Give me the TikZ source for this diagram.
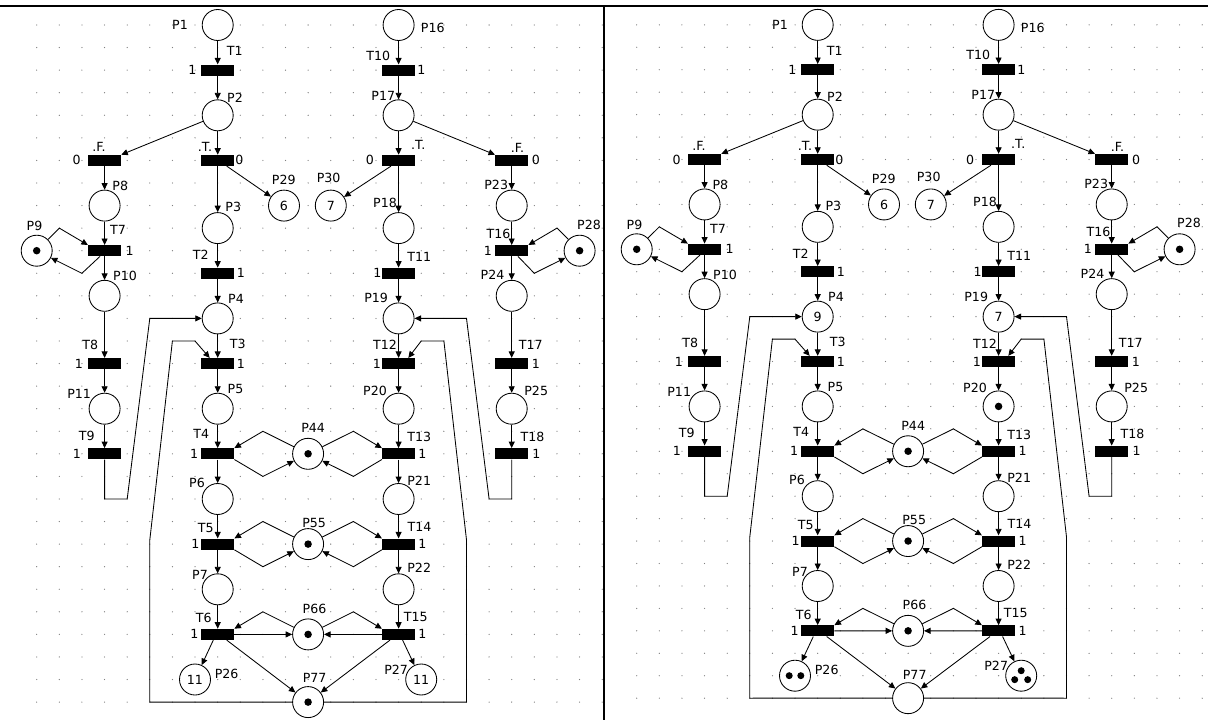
\documentclass[tikz,border=0pt]{standalone}
\usepackage{fontspec}
\setmainfont{DejaVu Sans}
\usetikzlibrary{arrows.meta}
\tikzset{
  place/.style={circle, draw, fill=white, line width=0.85pt, minimum size=31pt, inner sep=0pt},
  trans/.style={rectangle, fill=black, draw=none, minimum width=33pt, minimum height=11pt, inner sep=0pt},
  lbl/.style={font=\fontsize{12.6}{14}\selectfont, inner sep=0pt},
  arc/.style={-{Triangle[length=6.5pt,width=6pt]}, line width=0.85pt},
  tok/.style={circle, fill=black, draw=none, minimum size=7.5pt, inner sep=0pt},
  gdot/.style={fill=black!50}
}
\newcommand\petri[1]{%
  \foreach \i in {0,...,25}{\foreach \j in {0,...,30}{\fill[gdot] ({36.7+22.62*\i},{25+22.57*\j}) circle (0.65pt);}}%
  % places
  \node[place] (#1P1) at (217.7,25) {};
  \node[place] (#1P2) at (217.7,115.3) {};
  \node[place] (#1P8) at (104.6,205.6) {};
  \node[place] (#1P29) at (284,205.6) {};
  \node[place] (#1P3) at (217.7,228.1) {};
  \node[place] (#1P9) at (36.7,250.7) {};
  \node[place] (#1P10) at (104.6,295.8) {};
  \node[place] (#1P4) at (217.7,318.4) {};
  \node[place] (#1P11) at (104.6,408.7) {};
  \node[place] (#1P5) at (217.7,408.7) {};
  \node[place] (#1P44) at (308.1,453.8) {};
  \node[place] (#1P6) at (217.7,499) {};
  \node[place] (#1P21) at (398.6,499) {};
  \node[place] (#1P55) at (308.1,544.1) {};
  \node[place] (#1P7) at (217.7,589.3) {};
  \node[place] (#1P22) at (398.6,589.3) {};
  \node[place] (#1P66) at (308.1,634.4) {};
  \node[place] (#1P26) at (195,679.5) {};
  \node[place] (#1P27) at (421.2,679.5) {};
  \node[place] (#1P77) at (308.1,702.1) {};
  \node[place] (#1P16) at (398.6,25) {};
  \node[place] (#1P17) at (398.6,115.3) {};
  \node[place] (#1P30) at (330.8,205.6) {};
  \node[place] (#1P18) at (398.6,228.1) {};
  \node[place] (#1P23) at (511.7,205.6) {};
  \node[place] (#1P28) at (579.6,250.7) {};
  \node[place] (#1P24) at (511.7,295.8) {};
  \node[place] (#1P19) at (398.6,318.4) {};
  \node[place] (#1P20) at (398.6,408.7) {};
  \node[place] (#1P25) at (511.7,408.7) {};
  % transitions
  \node[trans] (#1T1) at (217.7,70.1) {};
  \node[trans] (#1TT1) at (217.7,160.4) {};
  \node[trans] (#1TF1) at (104.6,160.4) {};
  \node[trans] (#1T7) at (104.6,250.7) {};
  \node[trans] (#1T2) at (217.7,273.3) {};
  \node[trans] (#1T8) at (104.6,363.6) {};
  \node[trans] (#1T3) at (217.7,363.6) {};
  \node[trans] (#1T9) at (104.6,453.8) {};
  \node[trans] (#1T4) at (217.7,453.8) {};
  \node[trans] (#1T13) at (398.6,453.8) {};
  \node[trans] (#1T5) at (217.7,544.1) {};
  \node[trans] (#1T14) at (398.6,544.1) {};
  \node[trans] (#1T6) at (217.7,634.4) {};
  \node[trans] (#1T15) at (398.6,634.4) {};
  \node[trans] (#1T10) at (398.6,70.1) {};
  \node[trans] (#1TT2) at (398.6,160.4) {};
  \node[trans] (#1TF2) at (511.7,160.4) {};
  \node[trans] (#1T16) at (511.7,250.7) {};
  \node[trans] (#1T11) at (398.6,273.3) {};
  \node[trans] (#1T12) at (398.6,363.6) {};
  \node[trans] (#1T17) at (511.7,363.6) {};
  \node[trans] (#1T18) at (511.7,453.8) {};
  % arcs, left branch
  \draw[arc] (#1P1) -- (#1T1);
  \draw[arc] (#1T1) -- (#1P2);
  \draw[arc] (#1P2) -- (#1TT1);
  \draw[arc] (#1P2) -- (#1TF1.north east);
  \draw[arc] (#1TT1) -- (#1P3);
  \draw[arc] ([xshift=9pt]#1TT1.south) -- (#1P29);
  \draw[arc] (#1TF1) -- (#1P8);
  \draw[arc] (#1P8) -- (#1T7);
  \draw[arc] (#1T7) -- (#1P10);
  \draw[arc] (#1P9) -- (59.3,228.1) -- (#1T7.north west);
  \draw[arc] ([xshift=-4.6pt]#1T7.south) -- (81.9,273.3) -- (#1P9);
  \draw[arc] (#1P10) -- (#1T8);
  \draw[arc] (#1T8) -- (#1P11);
  \draw[arc] (#1P11) -- (#1T9);
  \draw[arc] (#1P3) -- (#1T2);
  \draw[arc] (#1T2) -- (#1P4);
  \draw[arc] (#1P4) -- (#1T3);
  \draw[arc] (#1T3) -- (#1P5);
  \draw[arc] (#1P5) -- (#1T4);
  \draw[arc] (#1T4) -- (#1P6);
  \draw[arc] (#1P6) -- (#1T5);
  \draw[arc] (#1T5) -- (#1P7);
  \draw[arc] (#1P7) -- (#1T6);
  \draw[arc] ([xshift=-4.4pt]#1T6.south) -- (#1P26);
  \draw[arc] ([xshift=9pt]#1T6.south) -- (#1P77);
  \draw[arc] (#1T6.east) -- (#1P66);
  \draw[arc] (#1P66) -- (262.9,611.8) -- (#1T6.north east);
  \draw[arc] (#1P44) -- (262.9,431.3) -- (#1T4.north east);
  \draw[arc] (#1T4.south east) -- (262.9,476.4) -- (#1P44);
  \draw[arc] (#1P44) -- (353.4,431.3) -- (#1T13.north west);
  \draw[arc] (#1T13.south west) -- (353.4,476.4) -- (#1P44);
  \draw[arc] (#1P55) -- (262.9,521.5) -- (#1T5.north east);
  \draw[arc] (#1T5.south east) -- (262.9,566.7) -- (#1P55);
  \draw[arc] (#1P55) -- (353.4,521.5) -- (#1T14.north west);
  \draw[arc] (#1T14.south west) -- (353.4,566.7) -- (#1P55);
  \draw[arc] (#1P66) -- (353.4,611.8) -- (#1T15.north west);
  \draw[arc] (#1T15.west) -- (#1P66);
  \draw[arc] ([xshift=-8.6pt]#1T15.south) -- (#1P77);
  \draw[arc] ([xshift=4pt]#1T15.south) -- (#1P27);
  % arcs, right branch
  \draw[arc] (#1P16) -- (#1T10);
  \draw[arc] (#1T10) -- (#1P17);
  \draw[arc] (#1P17) -- (#1TT2);
  \draw[arc] (#1P17) -- (#1TF2.north west);
  \draw[arc] (#1TT2) -- (#1P18);
  \draw[arc] ([xshift=-7.6pt]#1TT2.south) -- (#1P30);
  \draw[arc] (#1TF2) -- (#1P23);
  \draw[arc] (#1P23) -- (#1T16);
  \draw[arc] (#1T16) -- (#1P24);
  \draw[arc] (#1P28) -- (557,228.1) -- (#1T16.north east);
  \draw[arc] ([xshift=6.3pt]#1T16.south) -- (534.3,273.3) -- (#1P28);
  \draw[arc] (#1P24) -- (#1T17);
  \draw[arc] (#1T17) -- (#1P25);
  \draw[arc] (#1P25) -- (#1T18);
  \draw[arc] (#1P18) -- (#1T11);
  \draw[arc] (#1T11) -- (#1P19);
  \draw[arc] (#1P19) -- (#1T12);
  \draw[arc] (#1T12) -- (#1P20);
  \draw[arc] (#1P20) -- (#1T13);
  \draw[arc] (#1T13) -- (#1P21);
  \draw[arc] (#1P21) -- (#1T14);
  \draw[arc] (#1T14) -- (#1P22);
  \draw[arc] (#1P22) -- (#1T15);
  % feedback arcs
  \draw[arc] (#1T9) -- (104.6,499) -- (127.2,499) -- (149.8,318.4) -- (#1P4);
  \draw[arc] (#1P77) -- (149.8,702.1) -- (149.8,540) -- (172.4,341) -- (195,341) -- ([xshift=-8pt]#1T3.north);
  \draw[arc] (#1T18) -- (511.7,499) -- (489.1,499) -- (466.5,318.4) -- (#1P19);
  \draw[arc] (#1P77) -- (466.5,702.1) -- (466.5,540) -- (443.9,341) -- (421.2,341) -- ([xshift=9.7pt]#1T12.north);
  % labels
  \node[lbl] (#1lP1) at (180,25) {P1};
  \node[lbl] (#1lT1) at (234.7,51.3) {T1};
  \node[lbl] (#1lw1) at (192.5,70.1) {1};
  \node[lbl] (#1lP2) at (235,97.8) {P2};
  \node[lbl] (#1lF1) at (99,147) {.F.};
  \node[lbl] (#1lz1) at (76.7,160.4) {0};
  \node[lbl] (#1lTt1) at (205,147) {.T.};
  \node[lbl] (#1lz2) at (239.3,160.4) {0};
  \node[lbl] (#1lP8) at (120.3,185.5) {P8};
  \node[lbl] (#1lP29) at (283.8,179.5) {P29};
  \node[lbl] (#1lP3) at (233.3,207) {P3};
  \node[lbl] (#1lP9) at (34.5,226.3) {P9};
  \node[lbl] (#1lT7) at (118,230) {T7};
  \node[lbl] (#1lw7) at (129.7,250.7) {1};
  \node[lbl] (#1lP10) at (125,276) {P10};
  \node[lbl] (#1lT2) at (200.8,255.3) {T2};
  \node[lbl] (#1lw2) at (240.8,273.3) {1};
  \node[lbl] (#1lP4) at (236,298.8) {P4};
  \node[lbl] (#1lT8) at (90.3,345) {T8};
  \node[lbl] (#1lw8) at (79,363.6) {1};
  \node[lbl] (#1lT3) at (237.8,344) {T3};
  \node[lbl] (#1lw3) at (240.8,363.6) {1};
  \node[lbl] (#1lP11) at (79.2,394) {P11};
  \node[lbl] (#1lP5) at (235.5,389) {P5};
  \node[lbl] (#1lT9) at (86.7,435.8) {T9};
  \node[lbl] (#1lw9) at (77,453.8) {1};
  \node[lbl] (#1lT4) at (201.3,434) {T4};
  \node[lbl] (#1lw4) at (194.2,453.8) {1};
  \node[lbl] (#1lP6) at (197,482.8) {P6};
  \node[lbl] (#1lT5) at (205.8,528.3) {T5};
  \node[lbl] (#1lw5) at (195.5,544.1) {1};
  \node[lbl] (#1lP7) at (200,575) {P7};
  \node[lbl] (#1lT6) at (203.7,618.3) {T6};
  \node[lbl] (#1lw6) at (194.5,634.4) {1};
  \node[lbl] (#1lP26) at (226.7,673.8) {P26};
  \node[lbl] (#1lP44) at (313.2,428.3) {P44};
  \node[lbl] (#1lP55) at (314.2,522.5) {P55};
  \node[lbl] (#1lP66) at (314.5,608.7) {P66};
  \node[lbl] (#1lP77) at (314.7,678.3) {P77};
  \node[lbl] (#1lT13) at (419.2,437.3) {T13};
  \node[lbl] (#1lw13) at (422.5,453.8) {1};
  \node[lbl] (#1lP21) at (419.2,480.5) {P21};
  \node[lbl] (#1lT14) at (419.5,527.2) {T14};
  \node[lbl] (#1lw14) at (422.5,544.1) {1};
  \node[lbl] (#1lP22) at (419.2,568.3) {P22};
  \node[lbl] (#1lT15) at (415.8,616.7) {T15};
  \node[lbl] (#1lw15) at (422.5,634.4) {1};
  \node[lbl] (#1lP27) at (396.2,669.5) {P27};
  \node[lbl] (#1lP16) at (432.8,28.2) {P16};
  \node[lbl] (#1lT10) at (378.2,55.5) {T10};
  \node[lbl] (#1lw10) at (421.3,70.1) {1};
  \node[lbl] (#1lP17) at (383.3,95.8) {P17};
  \node[lbl] (#1lTt2) at (418.3,145) {.T.};
  \node[lbl] (#1lz3) at (370,160.4) {0};
  \node[lbl] (#1lF2) at (517.5,147.5) {.F.};
  \node[lbl] (#1lz4) at (536,160.4) {0};
  \node[lbl] (#1lP30) at (328.7,177.5) {P30};
  \node[lbl] (#1lP18) at (385,203.3) {P18};
  \node[lbl] (#1lP23) at (496.2,185) {P23};
  \node[lbl] (#1lT16) at (498.5,233.5) {T16};
  \node[lbl] (#1lw16) at (487.8,250.7) {1};
  \node[lbl] (#1lP28) at (589,224.5) {P28};
  \node[lbl] (#1lT11) at (419.2,257.2) {T11};
  \node[lbl] (#1lw11) at (377.5,273.3) {1};
  \node[lbl] (#1lP24) at (492.5,275) {P24};
  \node[lbl] (#1lP19) at (376.2,298.3) {P19};
  \node[lbl] (#1lT12) at (385,345.3) {T12};
  \node[lbl] (#1lw12) at (376.8,363.6) {1};
  \node[lbl] (#1lT17) at (530.8,344.5) {T17};
  \node[lbl] (#1lw17) at (535.8,363.6) {1};
  \node[lbl] (#1lP20) at (375,390.5) {P20};
  \node[lbl] (#1lP25) at (536.2,390.5) {P25};
  \node[lbl] (#1lT18) at (532.5,436.5) {T18};
  \node[lbl] (#1lw18) at (536.5,453.8) {1};
  % common markings
  \node[lbl] (#1mP29) at (#1P29) {6};
  \node[lbl] (#1mP30) at (#1P30) {7};
  \node[tok] (#1mP9) at (#1P9) {};
  \node[tok] (#1mP28) at (#1P28) {};
  \node[tok] (#1mP44) at (#1P44) {};
  \node[tok] (#1mP55) at (#1P55) {};
  \node[tok] (#1mP66) at (#1P66) {};
}
\begin{document}
\begin{tikzpicture}[x=1pt,y=-1pt]
\useasboundingbox (0,0) rectangle (1208,720);
\begin{scope}
  \petri{L}
  \node[tok] (LmP77) at (LP77) {};
  \node[lbl] (LmP26) at (LP26) {11};
  \node[lbl] (LmP27) at (LP27) {11};
\end{scope}
\begin{scope}[xshift=600pt, yscale=0.9944]
  \petri{R}
  \node[lbl] (RmP4) at (RP4) {9};
  \node[lbl] (RmP19) at (RP19) {7};
  \node[tok] (RmP20) at (RP20) {};
  \node[tok, minimum size=7pt] (RmP26a) at ([xshift=-5.8pt]RP26) {};
  \node[tok, minimum size=7pt] (RmP26b) at ([xshift=5.8pt]RP26) {};
  \node[tok, minimum size=7pt] (RmP27a) at ([yshift=5pt]RP27) {};
  \node[tok, minimum size=7pt] (RmP27b) at ([xshift=-6.5pt,yshift=-4pt]RP27) {};
  \node[tok, minimum size=7pt] (RmP27c) at ([xshift=6.5pt,yshift=-4pt]RP27) {};
\end{scope}
\draw[line width=2.3pt] (0,6.2) -- (1208,6.2);
\draw[line width=2.6pt] (604,6.2) -- (604,720);
\end{tikzpicture}
\end{document}
